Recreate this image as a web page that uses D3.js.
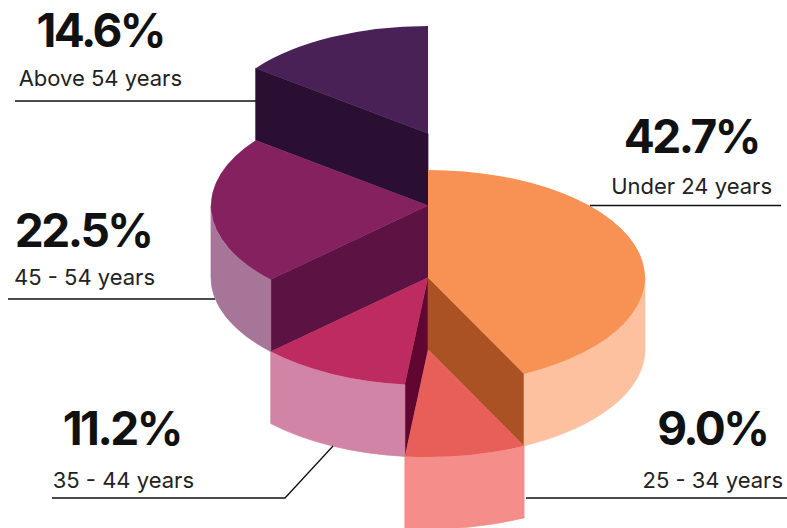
<!DOCTYPE html>
<html>
<head>
<meta charset="utf-8">
<style>
  html, body { margin: 0; padding: 0; background: #fff; }
  svg { display: block; }
  .pct { font-family: "Inter", "Liberation Sans", Arial, sans-serif; font-weight: 700; fill: #111; letter-spacing: -2.5px; }
  .age { font-family: "Inter", "Liberation Sans", Arial, sans-serif; font-weight: 400; fill: #222; }
</style>
<script src="https://cdn.jsdelivr.net/npm/d3@7/dist/d3.min.js"></script>
</head>
<body>
<svg id="chart" width="787" height="528"></svg>
<script>
// Age groups and their shares, clockwise from twelve o'clock
const ageGroups = ["Under 24 years", "25 - 34 years", "35 - 44 years", "45 - 54 years", "Above 54 years"];
const shares = [42.7, 9.0, 11.2, 22.5, 14.6];

// Per-slice colours: top face, outer rim, cut face
const topColors = ["#F79254", "#E85F59", "#BE2B60", "#85215F", "#4A2157"];
const rimColors = ["#FDC1A0", "#F58D8A", "#D184A5", "#A67598", "#6B4A75"];
const cutColors = ["#AB5224", "#B8433F", "#600630", "#5C1243", "#2B0F33"];

// Vertical step of each slice in the staggered stack (0 = highest)
const sliceLevels = [2, 3, 2, 1, 0];

// Callout layout: value text, caption text, leader polyline
const valueAnchors = [[759, 153, "end"], [767.5, 445, "end"], [181, 445, "end"], [151.5, 247, "end"], [164, 47, "end"]];
const captionAnchors = [[772, 194, "end"], [783, 488, "end"], [194, 488, "end"], [155, 285, "end"], [182, 86, "end"]];
const leaders = [
  [[590, 205.5], [781, 205.5]],
  [[526, 498], [787, 498]],
  [[52, 498], [285, 498], [333, 446]],
  [[8, 299], [215, 299]],
  [[15, 101], [256, 101]]
];

const cx = 428, rx = 217, ry = 107.5, depth = 72;
const levelY = d3.scaleLinear().domain([0, 3]).range([133.5, 349.5]);

const svg = d3.select("#chart");
const pie = d3.pie().sort(null).value(d => d);
const slices = pie(shares).map((s, i) => ({ ...s, i, cy: levelY(sliceLevels[i]) }));

const pointAt = (a, cy) => [cx + rx * Math.sin(a), cy - ry * Math.cos(a)];
const arcTop = d3.arc().innerRadius(0).outerRadius(rx);

// Outer rim: the part of the slice's arc on the near half of the ellipse
function rimPath(s) {
  const a0 = Math.max(s.startAngle, Math.PI / 2);
  const a1 = Math.min(s.endAngle, 3 * Math.PI / 2);
  if (a1 <= a0) return null;
  const [x0, y0] = pointAt(a0, s.cy);
  const [x1, y1] = pointAt(a1, s.cy);
  return `M${x0},${y0}A${rx},${ry} 0 0 1 ${x1},${y1}L${x1},${y1 + depth}` +
         `A${rx},${ry} 0 0 0 ${x0},${y0 + depth}Z`;
}

// Cut face along one radius, extruded downward
function cutPath(a, cy) {
  const [x, y] = pointAt(a, cy);
  return `M${cx},${cy}L${x},${y}L${x},${y + depth}L${cx},${cy + depth}Z`;
}

// Painter's order: highest slices first, then the two lower right slices
const drawOrder = [4, 3, 2, 0, 1];

// A hairline stroke in the fill colour closes antialiasing seams between faces
const paint = (sel, color) => sel.attr("fill", color).attr("stroke", color).attr("stroke-width", 0.7);

drawOrder.forEach(i => {
  const s = slices[i];
  const g = svg.append("g").attr("class", "slice");

  if (Math.sin(s.startAngle) < -1e-6) {
    g.append("path").attr("d", cutPath(s.startAngle, s.cy)).call(paint, cutColors[i]);
  }
  if (Math.sin(s.endAngle) > 1e-6) {
    g.append("path").attr("d", cutPath(s.endAngle, s.cy)).call(paint, cutColors[i]);
  }
  const rim = rimPath(s);
  if (rim) g.append("path").attr("d", rim).call(paint, rimColors[i]);

  g.append("path")
    .attr("transform", `translate(${cx},${s.cy}) scale(1,${ry / rx})`)
    .attr("d", arcTop(s))
    .attr("fill", topColors[i]);
});

// Leader lines
const leaderLine = d3.line();
svg.append("g").selectAll("path").data(leaders).join("path")
  .attr("d", leaderLine)
  .attr("fill", "none")
  .attr("stroke", "#111")
  .attr("stroke-width", 1.3);

const fmt = d3.format(".1f");
svg.append("g").selectAll("text").data(shares).join("text")
  .attr("class", "pct")
  .attr("x", (d, i) => valueAnchors[i][0])
  .attr("y", (d, i) => valueAnchors[i][1])
  .attr("text-anchor", (d, i) => valueAnchors[i][2])
  .attr("font-size", 46)
  .text(d => fmt(d) + "%");

svg.append("g").selectAll("text").data(ageGroups).join("text")
  .attr("class", "age")
  .attr("x", (d, i) => captionAnchors[i][0])
  .attr("y", (d, i) => captionAnchors[i][1])
  .attr("text-anchor", (d, i) => captionAnchors[i][2])
  .attr("font-size", 22)
  .text(d => d);
</script>
</body>
</html>
